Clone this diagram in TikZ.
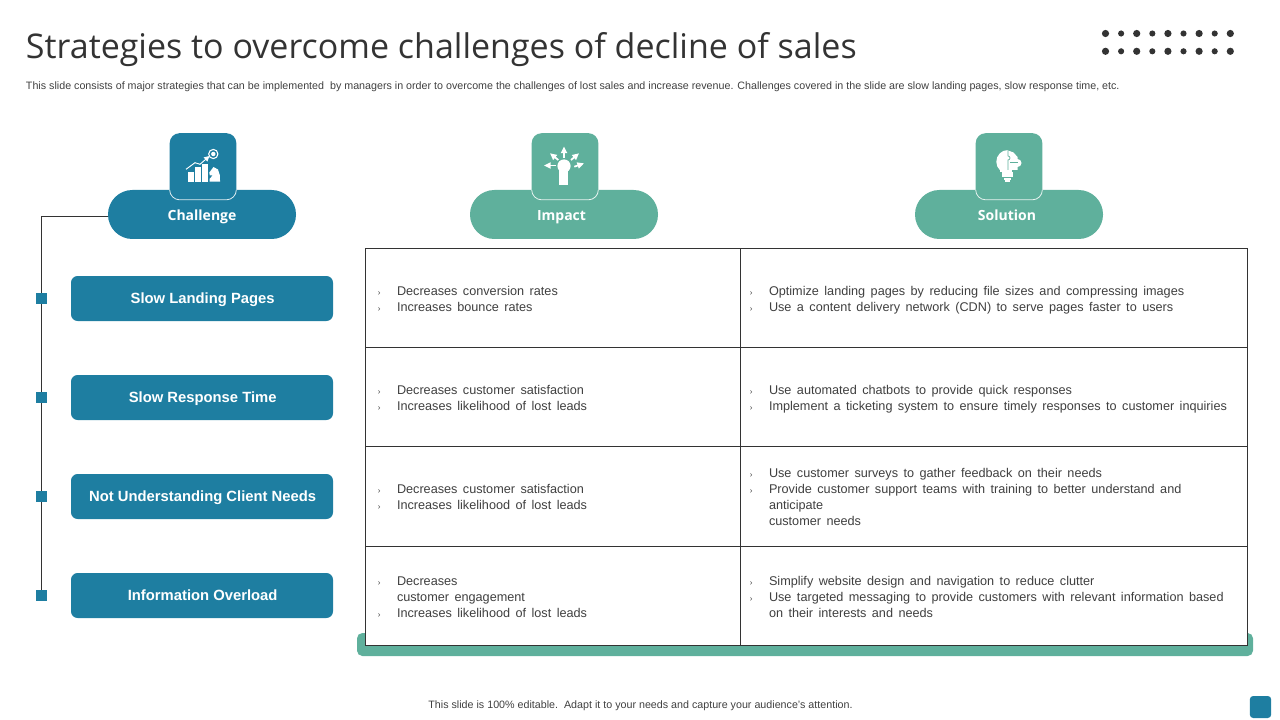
\documentclass[tikz,border=0pt]{standalone}
\usepackage{fontspec}
\setmainfont{Liberation Sans}
\newfontfamily\titlefont{Open Sans}
\newfontfamily\bodyfont[WordSpace=1.55]{Liberation Sans}
\usetikzlibrary{arrows.meta}
\definecolor{tealblue}{HTML}{1E7EA1}
\definecolor{seagreen}{HTML}{5FB09C}
\definecolor{inkgrey}{HTML}{404040}
\definecolor{linegrey}{HTML}{333333}
\newcommand{\bl}{\leavevmode\llap{\fontsize{6}{6}\selectfont\color{inkgrey}›\hspace{12.4pt}}}
\newcommand{\lab}[1]{\hspace{1pt}\strut\raisebox{-1.2pt}{#1}}
\tikzset{
  every node/.style={inner sep=0pt,outer sep=0pt},
  pillbox/.style={minimum width=141pt,minimum height=36.75pt,rounded corners=18.3pt},
  pilltext/.style={anchor=base,text=white,font=\titlefont\fontsize{10.5}{12}\selectfont\bfseries},
  iconbox/.style={minimum width=50pt,minimum height=50pt,rounded corners=7.5pt},
  labelbox/.style={fill=tealblue,minimum width=196.5pt,minimum height=33.75pt,rounded corners=5pt,text=white,
    font=\fontsize{11.1}{12}\selectfont\bfseries},
  marker/.style={fill=tealblue,minimum width=8.25pt,minimum height=8.25pt},
  cellbox/.style={draw=linegrey,line width=0.6pt,fill=white,anchor=north west},
  celltext/.style={anchor=west,align=left,text=inkgrey,font=\bodyfont\fontsize{9.5}{12}\selectfont},
  dotmark/.style={fill=linegrey,circle},
  iconarrow/.style={draw=white,line width=1.3pt,-{Triangle[width=4.6pt,length=5pt]}}
}
\begin{document}
\begin{tikzpicture}[x=0.75pt,y=-0.75pt]
\useasboundingbox (0,0) rectangle (1280,720);
% title block
\node[anchor=west,text=linegrey,font=\titlefont\fontsize{25.5}{30}\selectfont] (title) at (26,49.5) {Strategies to overcome challenges of decline of sales};
\node[anchor=west,text=inkgrey,font=\fontsize{8.03}{10}\selectfont] (subtitle) at (26,86.5) {This slide consists of major strategies that can be implemented\ \ by managers in order to overcome the challenges of lost sales and increase revenue. Challenges covered in the slide are slow landing pages, slow response time, etc.};
\foreach \i in {0,...,8}{
  \pgfmathsetmacro{\dx}{1105.5+15.6*\i}
  \pgfmathsetmacro{\ds}{mod(\i,2)==0 ? 5.4 : 4.6}
  \node[dotmark,minimum size=\ds pt] (dotA\i) at (\dx,33.5) {};
  \node[dotmark,minimum size=\ds pt] (dotB\i) at (\dx,51.3) {};
}
% headers
\node[pillbox,fill=tealblue] (challenge) at (202,214.5) {};
\node[pillbox,fill=seagreen] (impact) at (564,214.5) {};
\node[pillbox,fill=seagreen] (solution) at (1009,214.5) {};
\node[pilltext] (challengelabel) at (202,220) {Challenge};
\node[pilltext] (impactlabel) at (561.5,220) {Impact};
\node[pilltext] (solutionlabel) at (1007,220) {Solution};
\node[iconbox,fill=tealblue] (iconA) at (203,166.5) {};
\node[iconbox,fill=seagreen] (iconB) at (565,166.5) {};
\node[iconbox,fill=seagreen] (iconC) at (1009,166.5) {};
% light outlines on the icon boxes
\foreach \b in {iconA,iconB,iconC}{
  \draw[white,line width=0.6pt,opacity=.85,rounded corners=7.5pt] ([yshift=7.5pt]\b.south west) -- (\b.south west) -- (\b.south east) -- ([yshift=7.5pt]\b.south east);
}
% chart icon
\fill[white] (187.7,171.7) rectangle (194.3,181.7);
\fill[white] (195,167.3) rectangle (201,181.7);
\fill[white] (201.7,164.5) rectangle (208,181.7);
\draw[white,line width=0.7pt,-{Triangle[width=4pt,length=4pt]}] (186,169.3) -- (195,162.7) -- (200,164.3) -- (209.5,156);
\draw[white,line width=0.8pt] (213.3,154) circle[radius=4.6];
\fill[white] (213.3,154) circle[radius=2.2];
\fill[white] (209.5,181.7) -- (209.5,179) -- (212.5,175.5) -- (209.8,175.5) -- (209.3,172.5) -- (213.5,167) -- (218,169.5) -- (219.8,175) -- (219.8,179) -- (220.2,181.7) -- cycle;
% raised fist icon
\fill[white] (564,166) circle[radius=6.6];
\fill[white] (559.3,168) rectangle (568.3,185);
\draw[iconarrow] (564,158) -- (564,146.5);
\draw[iconarrow] (558.3,160) -- (550,153.3);
\draw[iconarrow] (571,160) -- (579,153.3);
\draw[iconarrow] (555.5,165.5) -- (544,165.5);
\draw[iconarrow] (574.3,166.7) -- (584,163.3);
% bulb and puzzle icon
\fill[white] (1008,150) arc[start angle=270,end angle=90,radius=11.7] -- cycle;
\fill[white] (1002,172) rectangle (1012.5,177.5);
\fill[white] (1004,178.5) rectangle (1011,180);
\fill[white] (1005,180.5) rectangle (1010,182);
\fill[white] (1000,168) rectangle (1012,172.5);
\fill[white] (1008,150.5) -- (1013.5,152.5) -- (1017.5,157) -- (1017.5,159) arc[start angle=270,end angle=450,radius=4] -- (1017.5,170) -- (1008,170) -- cycle;
\draw[seagreen,line width=0.5pt] (1008,150) -- (1008,156) arc[start angle=270,end angle=450,radius=2] -- (1008,170);
\draw[seagreen,line width=0.5pt] (1010,162.5) -- (1017.5,162.5);
% left column
\node[labelbox] (lab1) at (202,298.5) {\lab{Slow Landing Pages}};
\node[labelbox] (lab2) at (202,397.5) {\lab{Slow Response Time}};
\node[labelbox] (lab3) at (202,496.5) {\lab{Not Understanding Client Needs}};
\node[labelbox] (lab4) at (202,595.5) {\lab{Information Overload}};
\coordinate (elbow) at (41.5,216);
\draw[linegrey,line width=0.7pt] (challenge.west |- elbow) -- (elbow) -- (41.5,595.5);
\node[marker] (sq1) at (41.5,298) {};
\node[marker] (sq2) at (41.5,397) {};
\node[marker] (sq3) at (41.5,496) {};
\node[marker] (sq4) at (41.5,595.5) {};
% table
\fill[seagreen,rounded corners=4pt] (357,633) rectangle (1253,656);
\foreach \r/\yy in {1/248,2/347.33,3/446.67,4/546}{
  \node[cellbox,minimum width=281.2pt,minimum height=74.5pt] (cellA\r) at (365.5,\yy) {};
  \node[cellbox,minimum width=379.8pt,minimum height=74.5pt] (cellB\r) at (740.8,\yy) {};
}
\node[celltext] (ta1) at (397,300) {\strut\bl Decreases conversion  rates\\\bl Increases bounce rates\strut};
\node[celltext] (tb1) at (769,300) {\strut\bl Optimize landing pages by reducing file sizes and compressing images\\\bl Use a content delivery network (CDN) to serve pages faster to users\strut};
\node[celltext] (ta2) at (397,399) {\strut\bl Decreases customer satisfaction\\\bl Increases likelihood of lost leads\strut};
\node[celltext] (tb2) at (769,399) {\strut\bl Use automated chatbots to provide quick responses\\\bl Implement a ticketing system to ensure timely responses to customer inquiries\strut};
\node[celltext] (ta3) at (397,498) {\strut\bl Decreases customer satisfaction\\\bl Increases likelihood of lost leads\strut};
\node[celltext] (tb3) at (769,498) {\strut\bl Use customer surveys to gather feedback on their needs\\\bl Provide customer support teams with training to better understand and\\anticipate\\customer needs\strut};
\node[celltext] (ta4) at (397,598) {\strut\bl Decreases\\customer engagement\\\bl Increases likelihood of lost leads\strut};
\node[celltext] (tb4) at (769,598) {\strut\bl Simplify website design and navigation to reduce clutter\\\bl Use targeted messaging to provide customers with relevant information based\\on their interests and needs\strut};
% footer
\node[text=inkgrey,font=\fontsize{8.03}{10}\selectfont] (footer) at (640.5,706) {This slide is 100\% editable.\ \ Adapt it to your needs and capture your audience's attention.};
\node[fill=tealblue,minimum width=16pt,minimum height=16.5pt,rounded corners=2.5pt] (corner) at (1260.5,707) {};
\end{tikzpicture}
\end{document}
